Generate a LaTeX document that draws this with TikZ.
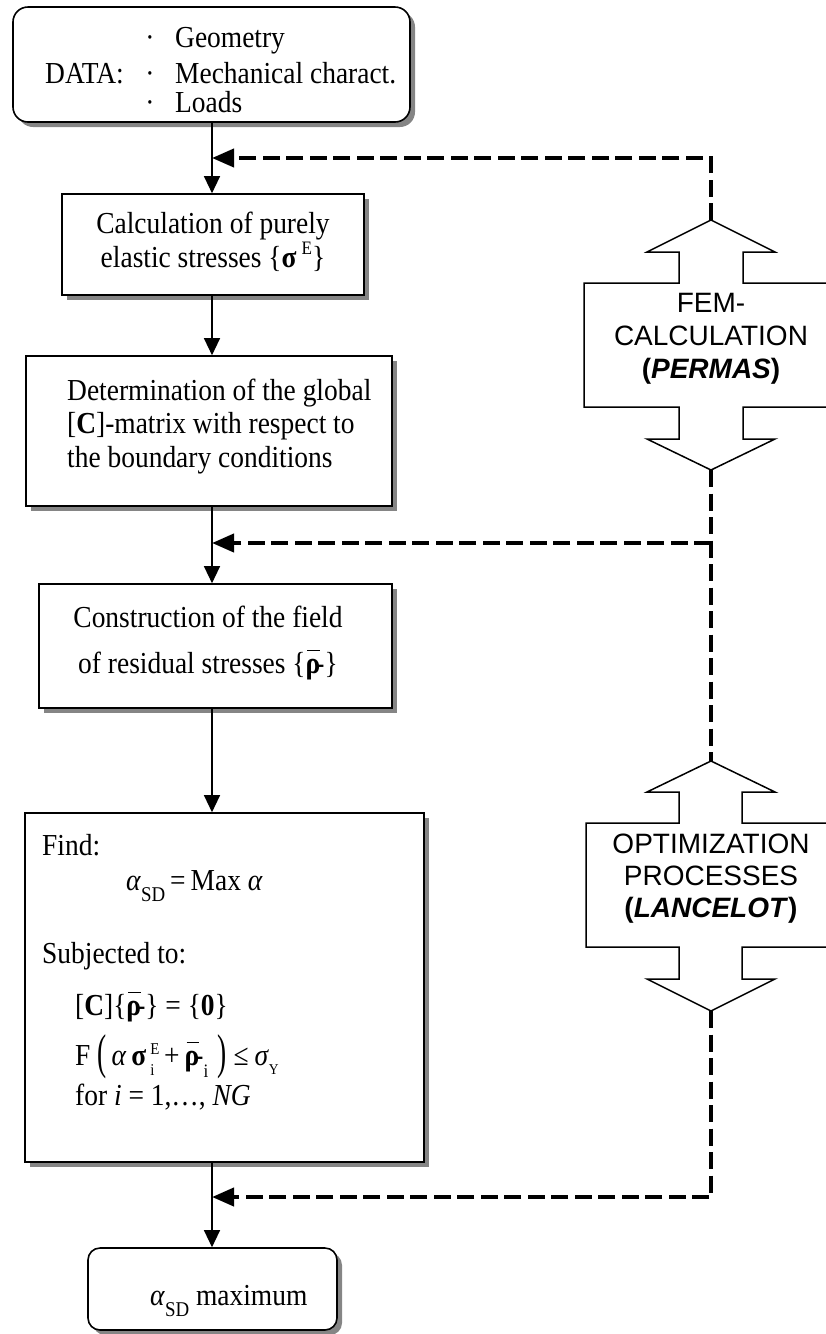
\documentclass[tikz,border=0pt]{standalone}
\usepackage{fontspec}
\usepackage{graphicx}
\setmainfont{Liberation Serif}[FakeStretch=0.9]
\newfontfamily\arialf{Liberation Sans}
\usetikzlibrary{arrows.meta,shadows}
\newcommand{\nsz}{\fontsize{30.5}{34}\selectfont}
\newcommand{\ssz}{\fontsize{19}{19}\selectfont}
\newcommand{\mysub}[1]{\raisebox{-0.4em}{\ssz #1}}
\newcommand{\mysubd}[1]{\raisebox{-0.38em}{\fontsize{21}{21}\selectfont #1}}
\newcommand{\mysubs}[1]{\raisebox{-0.3em}{\fontsize{15}{15}\selectfont #1}}
\newcommand{\supsub}[2]{\rlap{\raisebox{0.34em}{\fontsize{16.5}{16.5}\selectfont #1}}\raisebox{-0.34em}{\fontsize{16.5}{16.5}\selectfont #2}\kern0.12em}
\newcommand{\bigp}[1]{\raisebox{-3pt}{\scalebox{1}[1.6]{#1}}}
\newcommand{\rhobar}{\rlap{\kern0.06em\rule[0.72em]{0.42em}{0.05em}}{\bfseries ρ}\kern-0.16em-}
\begin{document}
\begin{tikzpicture}[x=1pt,y=-1pt,
  box/.style={draw, line width=1.6pt, fill=white, inner sep=0pt, rectangle,
    drop shadow={fill=black!48, opacity=1, shadow xshift=5pt, shadow yshift=-5pt}},
  rbox/.style={box, rounded corners=15pt},
  txt/.style={inner sep=0pt, font=\nsz},
  sans/.style={inner sep=0pt, font=\arialf\fontsize{28}{30}\selectfont},
  flow/.style={line width=1.2pt, -{Triangle[length=17pt,width=16pt]}},
  fbarrow/.style={line width=4pt, dash pattern=on 17pt off 6.5pt, -{Triangle[length=22pt,width=18pt]}},
  fbline/.style={line width=4pt, dash pattern=on 17pt off 6.5pt},
  bigarrow/.style={line width=1.5pt, line join=miter}
]
\useasboundingbox (0,0) rectangle (826,1334);

% ---------- boxes ----------
\node[rbox, minimum width=397pt, minimum height=115pt] (data) at (211.5,64.5) {};
\node[box, minimum width=302pt, minimum height=101pt] (calc) at (213,244.5) {};
\node[box, minimum width=366pt, minimum height=150pt] (cmat) at (209,431) {};
\node[box, minimum width=353pt, minimum height=124pt] (constr) at (215.5,646) {};
\node[box, minimum width=399pt, minimum height=349pt] (find) at (224.5,987.5) {};
\node[rbox, rounded corners=12pt, minimum width=249pt, minimum height=82pt] (result) at (212.5,1289) {};

% ---------- texts ----------
\node[txt, anchor=base west] (datalbl) at (45,83) {DATA:};
\node[txt, anchor=base] (b1) at (150,47) {·};
\node[txt, anchor=base] (b2) at (150,83) {·};
\node[txt, anchor=base] (b3) at (150,112) {·};
\node[txt, anchor=base west] (d1) at (175,47) {Geometry};
\node[txt, anchor=base west] (d2) at (175,83) {Mechanical charact.};
\node[txt, anchor=base west] (d3) at (175,112) {Loads};

\node[txt, anchor=base] (c1) at (213,233) {Calculation of purely};
\node[txt, anchor=base] (c2) at (213,267) {elastic stresses \{{\bfseries σ}\,\raisebox{0.4em}{\ssz E}\}};

\node[txt, anchor=base west] (m1) at (67,400) {Determination of the global};
\node[txt, anchor=base west] (m2) at (67,433) {[\textbf{C}]-matrix with respect to};
\node[txt, anchor=base west] (m3) at (67,467) {the boundary conditions};

\node[txt, anchor=base] (k1) at (208,627) {Construction of the field};
\node[txt, anchor=base] (k2) at (208,673) {of residual stresses \{\rhobar\}};

\node[txt, anchor=base west] (f1) at (42,855) {Find:};
\node[txt, anchor=base west] (f2) at (126,890) {\textit{α}\mysubd{SD}\kern5pt=\kern5pt Max \textit{α}};
\node[txt, anchor=base west] (f3) at (42,963) {Subjected to:};
\node[txt, anchor=base west] (f4) at (75,1015) {[\textbf{C}]\{\rhobar\} = \{\textbf{0}\}};
\node[txt, anchor=base west] (f5) at (75,1065) {F\kern7pt\bigp{(}\kern5pt\textit{α}\kern5pt{\bfseries σ}\kern4pt\supsub{E}{i}\kern6pt+\kern5pt\rhobar\mysub{i}\kern9pt\bigp{)}\kern7pt≤\kern6pt\textit{σ}\mysubs{Y}};
\node[txt, anchor=base west] (f6) at (75,1105) {for \textit{i} = 1,…, \textit{NG}};

\node[txt, anchor=base west] (r1) at (150,1305) {\textit{α}\mysubd{SD} maximum};

% ---------- main flow ----------
\coordinate (mx) at (212,0);
\draw[flow] (data.south -| mx) -- (calc.north -| mx);
\draw[flow] (calc.south -| mx) -- (cmat.north -| mx);
\draw[flow] (cmat.south -| mx) -- (constr.north -| mx);
\draw[flow] (constr.south -| mx) -- (find.north -| mx);
\draw[flow] (find.south -| mx) -- (result.north -| mx);

% ---------- double arrows ----------
\coordinate (femtop) at (711,220);
\coordinate (fembot) at (711,470);
\coordinate (opttop) at (711,761);
\coordinate (optbot) at (711,1011);
\draw[bigarrow] (830,283) -- (743,283) -- (743,252) -- (775,252) -- (femtop) -- (647,252) -- (679,252) -- (679,283) -- (584,283) -- (584,407) -- (679,407) -- (679,439) -- (647,439) -- (fembot) -- (775,439) -- (743,439) -- (743,407) -- (830,407);
\draw[bigarrow] (830,823) -- (742,823) -- (742,792) -- (775,792) -- (opttop) -- (647,792) -- (679,792) -- (679,823) -- (586,823) -- (586,947) -- (679,947) -- (679,979) -- (647,979) -- (optbot) -- (775,979) -- (742,979) -- (742,947) -- (830,947);

\node[sans, anchor=base] (fem1) at (711,312) {FEM-};
\node[sans, anchor=base] (fem2) at (711,345) {CALCULATION};
\node[sans, anchor=base] (fem3) at (711,378) {\textbf{(\textit{PERMAS})}};
\node[sans, anchor=base] (opt1) at (711,853) {OPTIMIZATION};
\node[sans, anchor=base] (opt2) at (711,885) {PROCESSES};
\node[sans, anchor=base] (opt3) at (711,917) {\textbf{(\textit{LANCELOT})}};

% ---------- feedback dashed lines ----------
\coordinate (j1) at (212,158);
\coordinate (j2) at (212,543);
\coordinate (j3) at (212,1197);
\draw[fbarrow] (femtop) |- (j1);
\draw[fbline] (fembot) -- (opttop);
\draw[fbarrow] (fembot |- j2) -- (j2);
\draw[fbarrow] (optbot) |- (j3);
\end{tikzpicture}
\end{document}
